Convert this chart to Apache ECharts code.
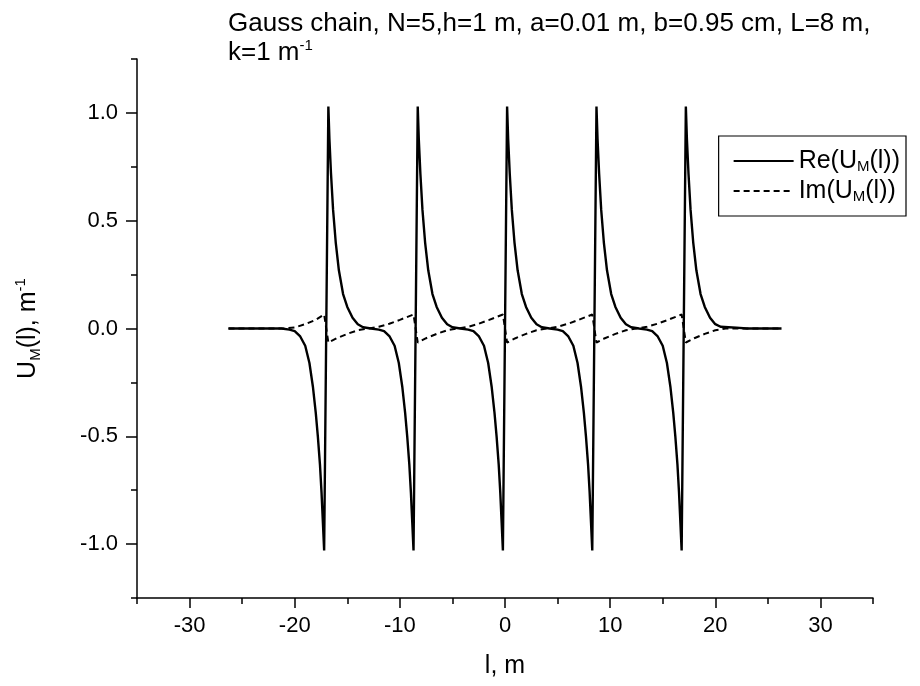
<!DOCTYPE html>
<html><head><meta charset="utf-8">
<script src="https://cdn.jsdelivr.net/npm/echarts@6/dist/echarts.min.js"></script>
<style>html,body{margin:0;padding:0;background:#fff}#c{width:920px;height:686px}</style>
</head><body><div id="c"></div>
<script>
// Re(U_M(l))
const reX = [
  -26.3, -24, -22, -21.25,
  -20.5, -20, -19.5, -19, -18.6, -18.27, -18, -17.8, -17.6, -17.45, -17.32, -17.2,
  -16.8, -16.7, -16.55, -16.35, -16.1, -15.8, -15.4, -15, -14.5, -14, -13.5, -12.75,
  -12, -11.5, -11, -10.5, -10.1, -9.77, -9.5, -9.3, -9.1, -8.95, -8.82, -8.7,
  -8.3, -8.2, -8.05, -7.85, -7.6, -7.3, -6.9, -6.5, -6, -5.5, -5, -4.25,
  -3.5, -3, -2.5, -2, -1.6, -1.27, -1, -0.8, -0.6, -0.45, -0.32, -0.2,
  0.2, 0.3, 0.45, 0.65, 0.9, 1.2, 1.6, 2, 2.5, 3, 3.5, 4.25,
  5, 5.5, 6, 6.5, 6.9, 7.23, 7.5, 7.7, 7.9, 8.05, 8.18, 8.3,
  8.7, 8.8, 8.95, 9.15, 9.4, 9.7, 10.1, 10.5, 11, 11.5, 12, 12.75,
  13.5, 14, 14.5, 15, 15.4, 15.73, 16, 16.2, 16.4, 16.55, 16.68, 16.8,
  17.2, 17.3, 17.45, 17.65, 17.9, 18.2, 18.6, 19, 19.5, 20, 20.5, 21.25, 22, 23, 24.5, 26.3
];
const reY = [
  0, 0, 0, 0,
  -0.005, -0.012, -0.035, -0.08, -0.16, -0.27, -0.39, -0.5, -0.63, -0.76, -0.9, -1.03,
  1.03, 0.88, 0.72, 0.55, 0.40, 0.27, 0.16, 0.10, 0.05, 0.02, 0.006, 0,
  -0.005, -0.012, -0.035, -0.08, -0.16, -0.27, -0.39, -0.5, -0.63, -0.76, -0.9, -1.03,
  1.03, 0.88, 0.72, 0.55, 0.40, 0.27, 0.16, 0.10, 0.05, 0.02, 0.006, 0,
  -0.005, -0.012, -0.035, -0.08, -0.16, -0.27, -0.39, -0.5, -0.63, -0.76, -0.9, -1.03,
  1.03, 0.88, 0.72, 0.55, 0.40, 0.27, 0.16, 0.10, 0.05, 0.02, 0.006, 0,
  -0.005, -0.012, -0.035, -0.08, -0.16, -0.27, -0.39, -0.5, -0.63, -0.76, -0.9, -1.03,
  1.03, 0.88, 0.72, 0.55, 0.40, 0.27, 0.16, 0.10, 0.05, 0.02, 0.006, 0,
  -0.005, -0.012, -0.035, -0.08, -0.16, -0.27, -0.39, -0.5, -0.63, -0.76, -0.9, -1.03,
  1.03, 0.88, 0.72, 0.55, 0.40, 0.27, 0.16, 0.10, 0.05, 0.02, 0.008, 0.006, 0.004, 0, 0, 0
];
// Im(U_M(l))
const imX = [
  -26.3, -21, -20, -19, -18, -17.2,
  -16.8, -16, -15, -14, -13, -12, -11, -10, -8.7,
  -8.3, -7.5, -6.5, -5.5, -4.5, -3.5, -2.5, -1.5, -0.2,
  0.2, 1, 2, 3, 4, 5, 6, 7, 8.3,
  8.7, 9.5, 10.5, 11.5, 12.5, 13.5, 14.5, 15.5, 16.8,
  17.2, 18, 19, 20, 21, 26.3
];
const imY = [
  0, 0, 0.005, 0.02, 0.04, 0.065,
  -0.065, -0.045, -0.025, -0.008, 0, 0.008, 0.022, 0.04, 0.065,
  -0.065, -0.045, -0.025, -0.008, 0, 0.008, 0.022, 0.04, 0.065,
  -0.065, -0.045, -0.025, -0.008, 0, 0.008, 0.022, 0.04, 0.065,
  -0.065, -0.045, -0.025, -0.008, 0, 0.008, 0.022, 0.04, 0.065,
  -0.065, -0.045, -0.025, -0.008, 0, 0
];
const xMajorTicks = [-30, -20, -10, 0, 10, 20, 30];
const xMinorTicks = [-35, -25, -15, -5, 5, 15, 25, 35];
const yMajorTicks = [-1.0, -0.5, 0, 0.5, 1.0];
const yMinorTicks = [-1.25, -0.75, -0.25, 0.25, 0.75, 1.25];

const FONT = '"Liberation Sans", Arial, sans-serif';
const chart = echarts.init(document.getElementById('c'), null, {renderer: 'canvas'});
const axisLine = {show: true, onZero: false, lineStyle: {color: '#000', width: 1.5}};
chart.setOption({
  backgroundColor: '#fff',
  animation: false,
  textStyle: {fontFamily: FONT, color: '#000'},
  title: {
    left: 223, top: 4,
    text: 'Gauss chain, N=5,h=1 m, a=0.01 m, b=0.95 cm, L=8 m,\nk=1 m{sup|-1}',
    textStyle: {
      fontFamily: FONT, fontSize: 26, fontWeight: 'normal', color: '#000', lineHeight: 29,
      rich: {sup: {fontSize: 15, verticalAlign: 'top', lineHeight: 18}}
    }
  },
  legend: {
    orient: 'vertical', right: 14, top: 136,
    backgroundColor: '#fff', borderColor: '#000', borderWidth: 1.2, borderRadius: 0,
    padding: [12, 6, 12, 14], itemGap: 4, itemWidth: 60, itemHeight: 2,
    itemStyle: {opacity: 0},
    formatter: function (n) { return n === 'Re' ? 'Re(U{sub|M}(l))' : 'Im(U{sub|M}(l))'; },
    textStyle: {
      fontFamily: FONT, fontSize: 25, color: '#000', lineHeight: 26,
      rich: {sub: {fontSize: 15, verticalAlign: 'bottom', lineHeight: 14}}
    }
  },
  grid: {left: 137, right: 47, top: 59, bottom: 88, containLabel: false},
  xAxis: [{
    type: 'value', min: -35, max: 35,
    name: 'l, m', nameLocation: 'middle', nameGap: 56,
    nameTextStyle: {fontFamily: FONT, fontSize: 25, color: '#000'},
    axisLine: axisLine,
    axisTick: {show: true, inside: false, length: 10, customValues: xMajorTicks, lineStyle: {color: '#000', width: 1.5}},
    axisLabel: {show: true, customValues: xMajorTicks, margin: 17, fontFamily: FONT, fontSize: 22, color: '#000'},
    splitLine: {show: false}
  }, {
    type: 'value', min: -35, max: 35, gridIndex: 0, position: 'bottom',
    axisLine: {show: false, onZero: false},
    axisTick: {show: true, length: 6, customValues: xMinorTicks, lineStyle: {color: '#000', width: 1.5}},
    axisLabel: {show: false},
    splitLine: {show: false}
  }],
  yAxis: [{
    type: 'value', min: -1.25, max: 1.25,
    name: 'U{sub|M}(l), m{sup|-1}', nameLocation: 'middle', nameGap: 94, nameRotate: 90,
    nameTextStyle: {
      fontFamily: FONT, fontSize: 25, color: '#000', lineHeight: 30,
      rich: {sub: {fontSize: 15, verticalAlign: 'bottom', lineHeight: 16}, sup: {fontSize: 15, verticalAlign: 'top', lineHeight: 16}}
    },
    axisLine: axisLine,
    axisTick: {show: true, inside: false, length: 11, customValues: yMajorTicks, lineStyle: {color: '#000', width: 1.5}},
    axisLabel: {show: true, customValues: yMajorTicks, margin: 19, fontFamily: FONT, fontSize: 22, color: '#000',
      formatter: function (v) { return v.toFixed(1); }},
    splitLine: {show: false}
  }, {
    type: 'value', min: -1.25, max: 1.25, gridIndex: 0, position: 'left',
    axisLine: {show: false, onZero: false},
    axisTick: {show: true, length: 6, customValues: yMinorTicks, lineStyle: {color: '#000', width: 1.5}},
    axisLabel: {show: false},
    splitLine: {show: false}
  }],
  series: [{
    name: 'Re', type: 'line', xAxisIndex: 0, yAxisIndex: 0,
    data: reX.map((x, i) => [x, reY[i]]),
    symbol: 'none', showSymbol: false, smooth: false,
    lineStyle: {color: '#000', width: 2.4, type: 'solid'},
    itemStyle: {color: '#000'}
  }, {
    name: 'Im', type: 'line', xAxisIndex: 0, yAxisIndex: 0,
    data: imX.map((x, i) => [x, imY[i]]),
    symbol: 'none', showSymbol: false, smooth: false,
    lineStyle: {color: '#000', width: 2, type: [6, 4]},
    itemStyle: {color: '#000'}
  }]
});
</script>
</body></html>
